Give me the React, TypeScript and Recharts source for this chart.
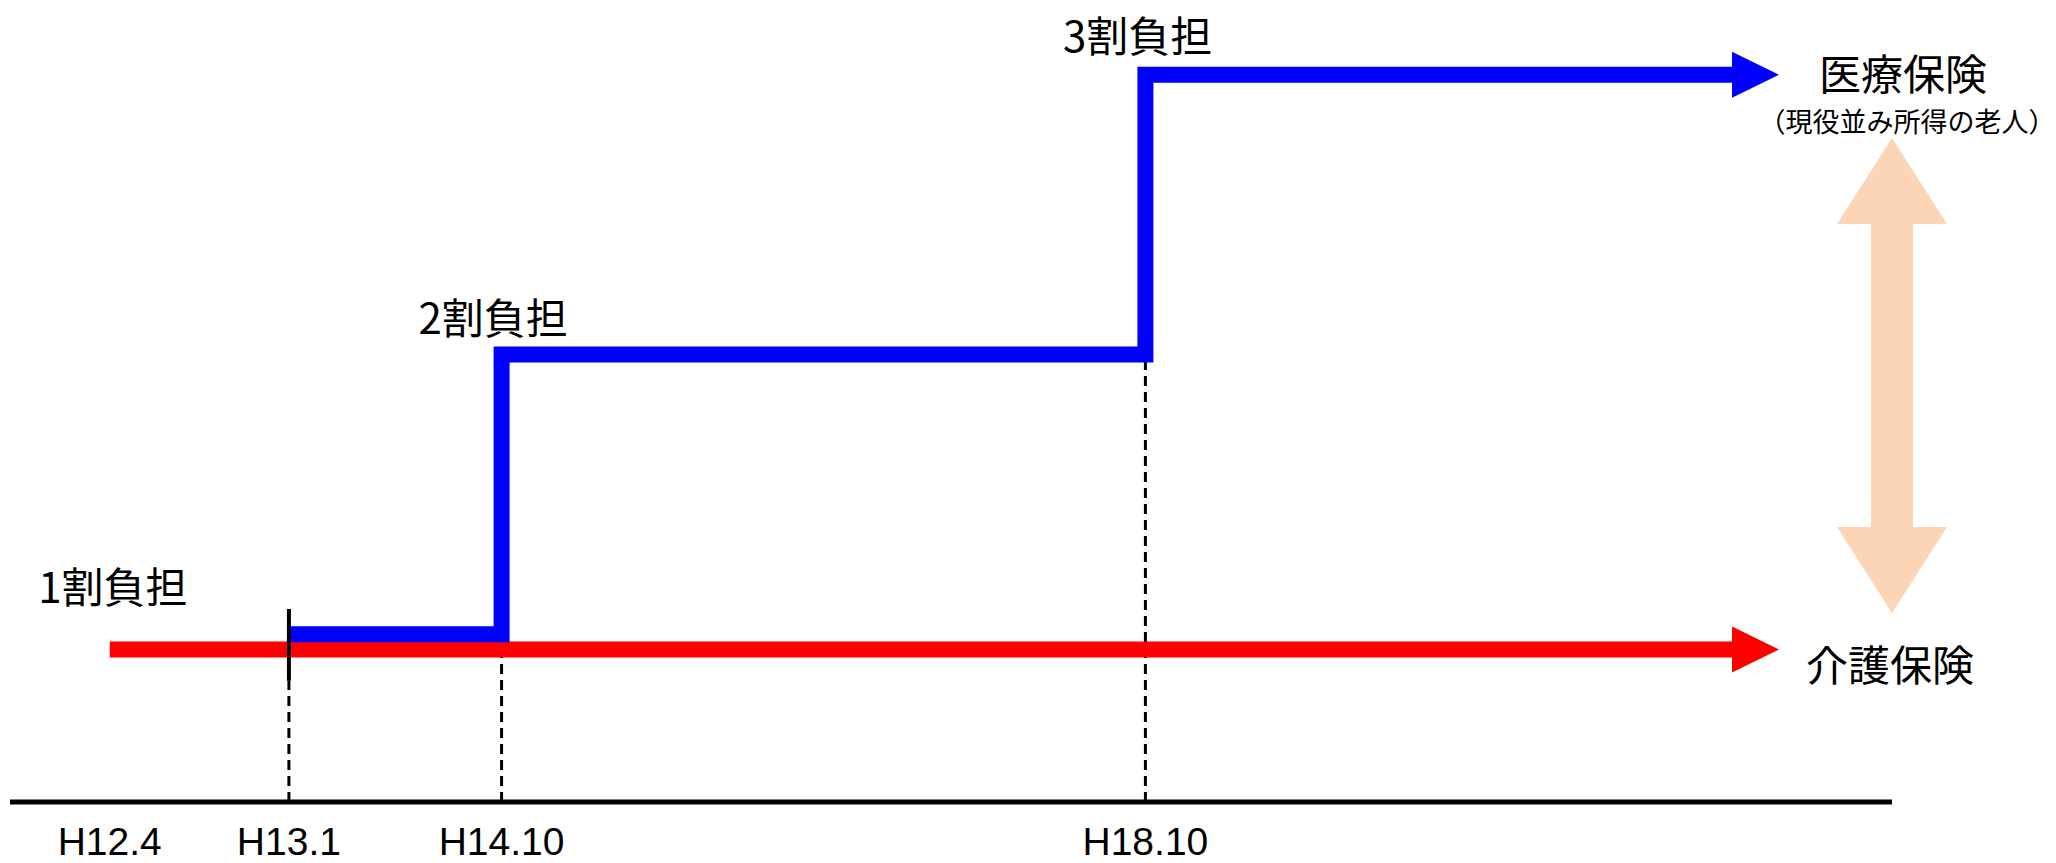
import React from 'react';
import { ComposedChart, Line, XAxis, YAxis, ReferenceDot, ReferenceLine } from 'recharts';

// x axis: schematic period positions (arbitrary units 0..100), y axis: co-payment rate (割)
const periodTicks = [5.3, 14.82, 26.12, 60.33];
const periodLabels = ['H12.4', 'H13.1', 'H14.10', 'H18.10'];

// 介護保険 (long-term care insurance): 1割 throughout
const careX = [5.3, 91.5];
const careY = [0.945, 0.945];

// 医療保険 (medical insurance, elderly with working-level income)
const medicalX = [14.82, 26.12, 60.33, 91.5];
const medicalY = [1, 2, 3, 3];

// dashed guides from the axis up to the step levels
const guideX = [14.82, 26.12, 60.33];
const guideTop = [0.833, 1.0, 2.0];
const markerX = 14.82;
const markerRange = [0.833, 1.09];

// burden labels
const burdenLabels = ['1割負担', '2割負担', '3割負担'];
const burdenLabelX = [1.5, 21.7, 55.95];
const burdenLabelY = [1.179, 2.141, 3.146];

// end labels
const endLabels = ['医療保険', '（現役並み所得の老人）', '介護保険'];
const endLabelX = [100.58, 100.8, 99.9];
const endLabelY = [3.012, 2.838, 0.897];
const endLabelSize = [42, 27, 42];

// double arrow between the two insurances
const gapArrowX = 100;
const gapArrowY = [1.076, 2.774];

const careData = careX.map((x, i) => ({ x, y: careY[i] }));
const medicalData = medicalX.map((x, i) => ({ x, y: medicalY[i] }));

const JP = "'Noto Sans CJK JP', sans-serif";

const arrowDot = (color: string, lastIndex: number) => (p: any) => {
  if (p.index !== lastIndex) return <g key={`d${p.index}`} />;
  const { cx, cy } = p;
  return (
    <polygon
      key="arrowhead"
      points={`${cx},${cy - 23} ${cx + 47},${cy} ${cx},${cy + 23}`}
      fill={color}
    />
  );
};

const DoubleArrow = (p: any) => {
  const x = p.x1;
  const top = Math.min(p.y1, p.y2);
  const bottom = Math.max(p.y1, p.y2);
  const hl = 86, hw = 55, sw = 21;
  const pts = [
    [x, top], [x + hw, top + hl], [x + sw, top + hl], [x + sw, bottom - hl],
    [x + hw, bottom - hl], [x, bottom], [x - hw, bottom - hl], [x - sw, bottom - hl],
    [x - sw, top + hl], [x - hw, top + hl],
  ].map((q) => q.join(',')).join(' ');
  return <polygon points={pts} fill="#FBD5B5" />;
};

const Tick = (p: any) => {
  const i = periodTicks.indexOf(p.payload.value);
  return (
    <text x={p.x} y={p.y + 53} textAnchor="middle" fontFamily="'Liberation Sans', Arial, sans-serif" fontSize={39} fill="#000">
      {i >= 0 ? periodLabels[i] : ''}
    </text>
  );
};

export default function App() {
  return (
    <div style={{ position: 'absolute', left: 0, top: 0, width: 2056, height: 863, background: '#fff' }}>
      <ComposedChart width={2056} height={863} margin={{ top: 2, right: 164, bottom: 0, left: 10 }}>
        <XAxis
          dataKey="x"
          type="number"
          domain={[0, 100]}
          ticks={periodTicks}
          allowDataOverflow
          height={61}
          tickSize={0}
          tickMargin={0}
          tickLine={false}
          axisLine={{ stroke: '#000', strokeWidth: 5 }}
          tick={Tick}
        />
        <YAxis type="number" domain={[0.4, 3.26]} hide allowDataOverflow />

        {guideX.map((gx, i) => (
          <Line
            key={`guide${i}`}
            data={[{ x: gx, y: 0.4 }, { x: gx, y: guideTop[i] }]}
            dataKey="y"
            stroke="#000"
            strokeWidth={3}
            strokeDasharray="10 6"
            dot={false}
            activeDot={false}
            isAnimationActive={false}
          />
        ))}

        <Line
          data={careData}
          dataKey="y"
          stroke="#FF0000"
          strokeWidth={16}
          dot={arrowDot('#FF0000', careData.length - 1)}
          activeDot={false}
          isAnimationActive={false}
        />
        <Line
          data={medicalData}
          dataKey="y"
          type="stepAfter"
          stroke="#0000FF"
          strokeWidth={16}
          strokeLinejoin="miter"
          dot={arrowDot('#0000FF', medicalData.length - 1)}
          activeDot={false}
          isAnimationActive={false}
        />
        <Line
          data={[{ x: markerX, y: markerRange[0] }, { x: markerX, y: markerRange[1] }]}
          dataKey="y"
          stroke="#000"
          strokeWidth={4}
          dot={false}
          activeDot={false}
          isAnimationActive={false}
        />

        <ReferenceLine
          segment={[{ x: gapArrowX, y: gapArrowY[0] }, { x: gapArrowX, y: gapArrowY[1] }]}
          ifOverflow="visible"
          shape={DoubleArrow}
        />

        {burdenLabels.map((t, i) => (
          <ReferenceDot
            key={`bl${i}`}
            x={burdenLabelX[i]}
            y={burdenLabelY[i]}
            r={0}
            ifOverflow="visible"
            shape={(p: any) => (
              <text x={p.cx} y={p.cy} dominantBaseline="central" textAnchor="start" fontFamily={JP} fontSize={42} fill="#000">
                {t}
              </text>
            )}
          />
        ))}
        {endLabels.map((t, i) => (
          <ReferenceDot
            key={`el${i}`}
            x={endLabelX[i]}
            y={endLabelY[i]}
            r={0}
            ifOverflow="visible"
            shape={(p: any) => (
              <text x={p.cx} y={p.cy} dominantBaseline="central" textAnchor="middle" fontFamily={JP} fontSize={endLabelSize[i]} fill="#000">
                {t}
              </text>
            )}
          />
        ))}
      </ComposedChart>
    </div>
  );
}
